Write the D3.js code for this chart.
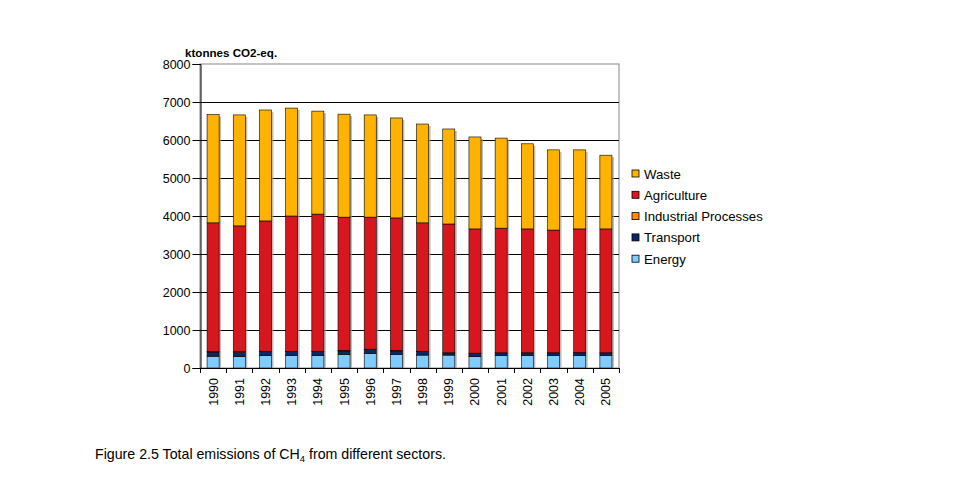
<!DOCTYPE html>
<html><head><meta charset="utf-8">
<script src="https://cdn.jsdelivr.net/npm/d3@7"></script>
<style>body{margin:0;background:#fff;font-family:Arial,"Liberation Sans",sans-serif}</style>
</head><body><svg id="c" width="954" height="481"></svg>
<script>
const years = ["1990","1991","1992","1993","1994","1995","1996","1997","1998","1999","2000","2001","2002","2003","2004","2005"];
const energy = [310,300,330,330,330,360,385,360,340,340,300,330,330,330,330,330];
const transport = [110,110,100,100,100,90,100,90,90,50,80,60,60,60,60,60];
const industrial = [10,20,10,10,10,10,10,10,10,10,10,10,10,10,15,10];
const agriculture = [3390,3310,3430,3560,3610,3510,3475,3490,3380,3390,3270,3280,3260,3230,3255,3260];
const waste = [2850,2920,2920,2840,2710,2710,2690,2630,2600,2500,2420,2370,2240,2110,2080,1940];
const yTicks = [0,1000,2000,3000,4000,5000,6000,7000,8000];
const seriesNames = ["Energy","Transport","Industrial Processes","Agriculture","Waste"];
const seriesColors = ["#80CCFF","#0A2862","#FF8C00","#D7161E","#FFB300"];
const legendOrder = ["Waste","Agriculture","Industrial Processes","Transport","Energy"];

const svg = d3.select("#c");
const x0 = 200, x1 = 619, yTop = 64, yBot = 368;
const x = d3.scaleBand().domain(years).range([x0, x1]).paddingInner(0.54).paddingOuter(0.27);
const y = d3.scaleLinear().domain([0, 8000]).range([yBot, yTop]);

const rows = years.map((yr, i) => ({year: yr, "Energy": energy[i], "Transport": transport[i],
  "Industrial Processes": industrial[i], "Agriculture": agriculture[i], "Waste": waste[i]}));
const stacked = d3.stack().keys(seriesNames)(rows);
const color = d3.scaleOrdinal().domain(seriesNames).range(seriesColors);

// plot border (top/right grey)
svg.append("rect").attr("x", x0).attr("y", yTop).attr("width", x1 - x0).attr("height", yBot - yTop)
  .attr("fill", "none").attr("stroke", "#888").attr("stroke-width", 1);
// gridlines
svg.append("g").selectAll("line").data(yTicks.filter(d => d > 0 && d < 8000)).join("line")
  .attr("x1", x0).attr("x2", x1).attr("y1", d => Math.round(y(d)) + 0.5).attr("y2", d => Math.round(y(d)) + 0.5)
  .attr("stroke", "#000").attr("stroke-width", 1);

// shadows
const totals = rows.map(r => seriesNames.reduce((s, k) => s + r[k], 0));
svg.append("g").selectAll("rect").data(years).join("rect")
  .attr("x", d => x(d) + 2).attr("y", (d, i) => y(totals[i]) + 2)
  .attr("width", x.bandwidth()).attr("height", (d, i) => yBot - y(totals[i]) - 2)
  .attr("fill", "#a0a0a0").attr("opacity", 0.7);

// bars
svg.append("g").selectAll("g").data(stacked).join("g").attr("fill", d => color(d.key))
  .selectAll("rect").data(d => d).join("rect")
  .attr("x", d => x(d.data.year)).attr("y", d => y(d[1]))
  .attr("width", x.bandwidth()).attr("height", d => y(d[0]) - y(d[1]))
  .attr("stroke", "#000").attr("stroke-width", 0.6);

// axes
const yAxis = d3.axisLeft(y).tickValues(yTicks).tickSize(8).tickPadding(2).tickFormat(d3.format("d"));
const gy = svg.append("g").attr("transform", `translate(${x0 + 0.5},0)`).call(yAxis);
gy.select(".domain").attr("stroke", "#000");
gy.selectAll("text").attr("font-size", 12.5).attr("font-family", "Arial, Liberation Sans, sans-serif").attr("fill", "#000");

// x axis line and ticks between categories
svg.append("line").attr("x1", x0).attr("x2", x1).attr("y1", yBot + 0.5).attr("y2", yBot + 0.5).attr("stroke", "#000");
const bounds = d3.range(years.length + 1).map(i => x0 + i * (x1 - x0) / years.length);
svg.append("g").selectAll("line").data(bounds).join("line")
  .attr("x1", d => Math.round(d) + 0.5).attr("x2", d => Math.round(d) + 0.5).attr("y1", yBot).attr("y2", yBot + 5)
  .attr("stroke", "#000");
svg.append("g").selectAll("text").data(years).join("text")
  .attr("transform", d => `translate(${x(d) + x.bandwidth() / 2 + 4.5},${yBot + 10}) rotate(-90)`)
  .attr("text-anchor", "end").attr("font-size", 12.5).attr("fill", "#000").text(d => d);

// y label
svg.append("text").attr("x", 185).attr("y", 57).attr("font-size", 11.6).attr("font-weight", "bold").text("ktonnes CO2-eq.");

// legend
const lg = svg.append("g").selectAll("g").data(legendOrder).join("g")
  .attr("transform", (d, i) => `translate(632,${170 + i * 21.3})`);
lg.append("rect").attr("width", 7).attr("height", 7).attr("fill", d => color(d)).attr("stroke", "#000").attr("stroke-width", 0.8);
lg.append("text").attr("x", 12).attr("y", 8.5).attr("font-size", 13.2).text(d => d);

// caption
const cap = svg.append("text").attr("x", 95).attr("y", 459).attr("font-size", 14.2);
cap.append("tspan").text("Figure 2.5 Total emissions of CH");
cap.append("tspan").attr("font-size", 9.5).attr("dy", 3).text("4");
cap.append("tspan").attr("dy", -3).text(" from different sectors.");
</script></body></html>
